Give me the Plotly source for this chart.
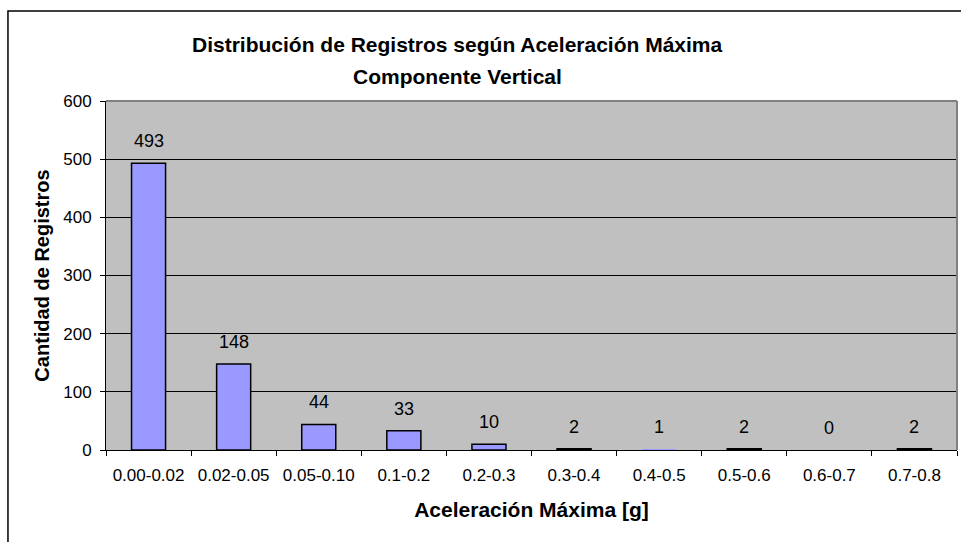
import plotly.graph_objects as go

# Rangos de aceleración máxima y cantidad de registros
rangos = ["0.00-0.02", "0.02-0.05", "0.05-0.10", "0.1-0.2", "0.2-0.3",
          "0.3-0.4", "0.4-0.5", "0.5-0.6", "0.6-0.7", "0.7-0.8"]
registros = [493, 148, 44, 33, 10, 2, 1, 2, 0, 2]
y_ticks = [0, 100, 200, 300, 400, 500, 600]

FONT = "Liberation Sans, Arial, sans-serif"

# Las barras de altura casi nula no muestran contorno (como en Excel)
bordes = [1.5 if v >= 2 else 0 for v in registros]

fig = go.Figure(go.Bar(
    x=rangos,
    y=registros,
    width=0.4,
    marker=dict(color="#9999FF", line=dict(color="black", width=bordes)),
    hoverinfo="x+y",
))

# Etiquetas de valores sobre cada barra
for r, v in zip(rangos, registros):
    fig.add_annotation(x=r, y=v, text=str(v), showarrow=False,
                       yshift=22, yanchor="middle",
                       font=dict(family=FONT, size=18, color="black"))

# Título en dos líneas
fig.add_annotation(xref="paper", yref="paper", x=0.4136, y=1.0, yshift=57,
                   text="<b>Distribución de Registros según Aceleración Máxima</b>",
                   showarrow=False, yanchor="middle",
                   font=dict(family=FONT, size=21, color="black"))
fig.add_annotation(xref="paper", yref="paper", x=0.4136, y=1.0, yshift=25,
                   text="<b>Componente Vertical</b>",
                   showarrow=False, yanchor="middle",
                   font=dict(family=FONT, size=21, color="black"))

# Borde del área de gráfico (arriba y derecha en gris)
fig.add_shape(type="line", xref="paper", yref="paper", x0=0, x1=1, y0=1, y1=1,
              line=dict(color="#808080", width=2))
fig.add_shape(type="line", xref="paper", yref="paper", x0=1, x1=1, y0=0, y1=1,
              line=dict(color="#808080", width=2))
# Borde exterior del gráfico
fig.add_shape(type="rect", xref="paper", yref="paper",
              x0=-0.1152, x1=1.2, y0=-0.5, y1=1.2579,
              line=dict(color="black", width=1.5))

fig.update_layout(
    width=961, height=542,
    margin=dict(l=106, r=4, t=101, b=92),
    paper_bgcolor="white",
    plot_bgcolor="#C0C0C0",
    showlegend=False,
    font=dict(family=FONT, size=17, color="black"),
    bargap=0.6,
)

fig.update_xaxes(
    type="category",
    tickson="boundaries",
    ticks="outside", ticklen=5, tickcolor="black", tickwidth=1,
    showline=True, linecolor="black", linewidth=1,
    showgrid=False,
    tickfont=dict(family=FONT, size=17),
    ticklabelstandoff=10,
    title=dict(text="<b>Aceleración Máxima [g]</b>",
               font=dict(family=FONT, size=21), standoff=17),
)
fig.update_yaxes(
    range=[0, 600],
    tickvals=y_ticks,
    ticks="outside", ticklen=5, tickcolor="black", tickwidth=1,
    showline=True, linecolor="black", linewidth=1,
    showgrid=True, gridcolor="black", gridwidth=1,
    zeroline=False,
    tickfont=dict(family=FONT, size=17),
    ticklabelstandoff=5,
    title=dict(text="<b>Cantidad de Registros</b>",
               font=dict(family=FONT, size=20), standoff=8),
)

fig.write_html("out.html", config={"displayModeBar": False},
               post_script="document.body.style.margin='0';")
